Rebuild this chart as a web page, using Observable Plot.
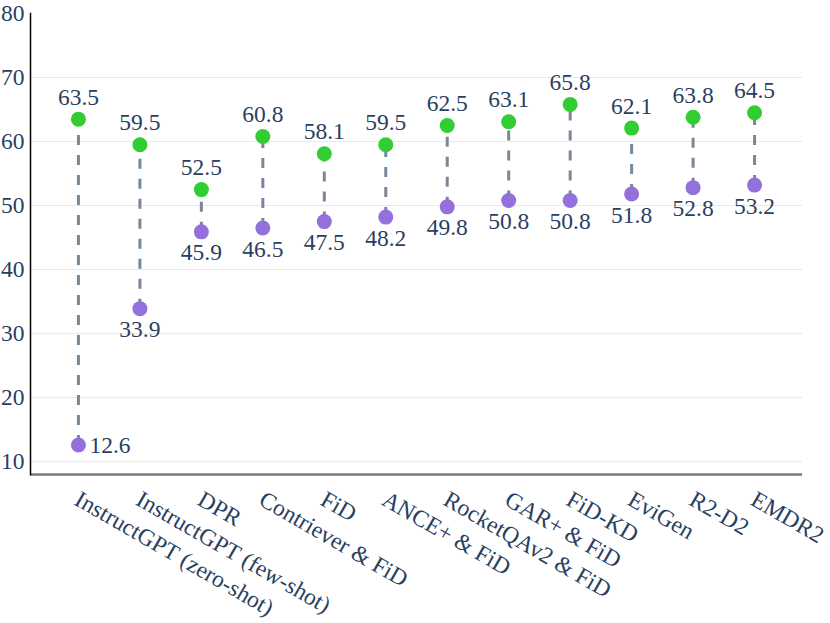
<!DOCTYPE html>
<html>
<head>
<meta charset="utf-8">
<script src="https://cdn.jsdelivr.net/npm/d3@7"></script>
<script src="https://cdn.jsdelivr.net/npm/@observablehq/plot@0.6"></script>
<style>
  body { margin: 0; background: #fff; }
  #chart svg { display: block; }
</style>
</head>
<body>
<div id="chart"></div>
<script>
const categories = [
  "InstructGPT (zero-shot)", "InstructGPT (few-shot)", "DPR", "Contriever & FiD",
  "FiD", "ANCE+ & FiD", "RocketQAv2 & FiD", "GAR+ & FiD", "FiD-KD",
  "EviGen", "R2-D2", "EMDR2"
];
const lowValues  = [12.6, 33.9, 45.9, 46.5, 47.5, 48.2, 49.8, 50.8, 50.8, 51.8, 52.8, 53.2];
const highValues = [63.5, 59.5, 52.5, 60.8, 58.1, 59.5, 62.5, 63.1, 65.8, 62.1, 63.8, 64.5];
const yTicks = [10, 20, 30, 40, 50, 60, 70, 80];
const gridTicks = [10, 20, 30, 40, 50, 60, 70];

const rows = categories.map((c, i) => ({cat: c, low: lowValues[i], high: highValues[i], i}));
const textColor = "#2a3f5f";
const font = "Liberation Serif";
const fs = 23.5;
const fsX = 23.5;

const chart = Plot.plot({
  width: 830,
  height: 623,
  marginLeft: 30,
  marginRight: 28,
  marginTop: 13,
  marginBottom: 149,
  style: {fontFamily: font, fontSize: fs + "px", color: textColor, background: "#fff"},
  x: {type: "point", domain: categories, padding: 0.78, round: false},
  y: {domain: [8, 80]},
  marks: [
    Plot.gridY(gridTicks, {stroke: "#e8e8e8", strokeOpacity: 1, strokeWidth: 1}),
    Plot.ruleY([8], {stroke: "#7a7a7a", strokeWidth: 2.5}),
    Plot.frame({anchor: "left", stroke: "#000", strokeWidth: 1.5}),
    Plot.axisY(yTicks, {tickSize: 0, tickPadding: 6, fontSize: fs, fill: textColor, label: null}),
    Plot.axisX({tickSize: 0, tickRotate: 30, textAnchor: "start", lineAnchor: "top", tickPadding: 15, dx: 3, fontSize: fsX, fill: textColor, label: null}),
    Plot.link(rows, {x1: "cat", x2: "cat", y1: "low", y2: "high", stroke: "#778899", strokeWidth: 3, strokeDasharray: "10,10"}),
    Plot.dot(rows, {x: "cat", y: "high", r: 7.5, fill: "#32CD32"}),
    Plot.dot(rows, {x: "cat", y: "low", r: 7.5, fill: "#9370DB"}),
    Plot.text(rows, {x: "cat", y: "high", text: d => d.high.toFixed(1), dy: -22, fontSize: fs, fill: textColor}),
    Plot.text(rows.filter(d => d.i > 0), {x: "cat", y: "low", text: d => d.low.toFixed(1), dy: 21, fontSize: fs, fill: textColor}),
    Plot.text(rows.filter(d => d.i === 0), {x: "cat", y: "low", text: d => d.low.toFixed(1), dx: 11, textAnchor: "start", fontSize: fs, fill: textColor})
  ]
});
document.getElementById("chart").appendChild(chart);
</script>
</body>
</html>
